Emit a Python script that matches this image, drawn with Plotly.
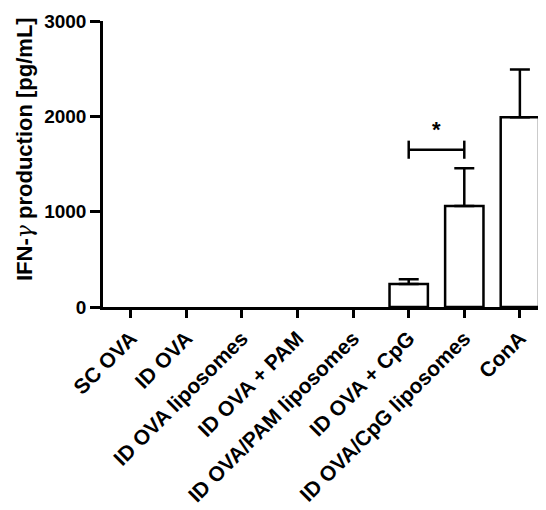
import plotly.graph_objects as go

categories = ["SC OVA", "ID OVA", "ID OVA liposomes", "ID OVA + PAM",
              "ID OVA/PAM liposomes", "ID OVA + CpG", "ID OVA/CpG liposomes", "ConA"]
values = [0, 0, 0, 0, 0, 240, 1060, 1990]
errors = [0, 0, 0, 0, 0, 50, 395, 500]
y_ticks = [0, 1000, 2000, 3000]

sig_pair = (5, 6)
sig_level = 1650
sig_cap = 95
sig_star_y = 1860

FONT = "Liberation Sans, Arial, sans-serif"

# zero-height bars are not drawn in the original figure
shown_values = [v if v > 0 else None for v in values]
shown_errors = [e if v > 0 else None for v, e in zip(values, errors)]

fig = go.Figure()
fig.add_trace(go.Bar(
    x=list(range(len(categories))), y=shown_values,
    width=0.69,
    marker=dict(color="white", line=dict(color="black", width=2.5)),
    error_y=dict(type="data", array=shown_errors, arrayminus=[0]*len(errors), symmetric=False,
                 visible=True, color="black", thickness=2.5, width=10),
    showlegend=False,
))

# significance bracket
a, b = sig_pair
fig.add_trace(go.Scatter(
    x=[a, a, None, a, b, None, b, b],
    y=[sig_level - sig_cap, sig_level + sig_cap, None, sig_level, sig_level, None,
       sig_level - sig_cap, sig_level + sig_cap],
    mode="lines", line=dict(color="black", width=2.5), showlegend=False, hoverinfo="skip",
))
fig.add_annotation(x=(a + b) / 2, y=sig_star_y, text="<b>*</b>", showarrow=False,
                   font=dict(family=FONT, size=22, color="black"))

# y-axis title
fig.add_annotation(
    xref="paper", yref="paper", x=0, y=0.5, xanchor="center", yanchor="middle",
    xshift=-79, yshift=15, textangle=-90, showarrow=False,
    text="<b>IFN-</b><span style='font-family:DejaVu Serif;font-weight:normal;font-style:italic'>γ</span><b> production [pg/mL]</b>",
    font=dict(family=FONT, size=22, color="black"),
)

fig.update_layout(
    width=546, height=510,
    margin=dict(l=95, r=8, t=13, b=211),
    plot_bgcolor="white", paper_bgcolor="white",
    font=dict(family=FONT, size=21, color="black"),
)
fig.update_xaxes(
    range=[-0.5, 7.47], automargin=False,
    tickmode="array", tickvals=list(range(len(categories))),
    ticktext=[f"<b>{c}</b>" for c in categories],
    tickangle=-45,
    showline=True, linecolor="black", linewidth=2.5,
    ticks="outside", ticklen=8, tickwidth=2.5, tickcolor="black",
    showgrid=False, zeroline=False,
    tickfont=dict(family=FONT, size=21, color="black"),
)
fig.update_yaxes(
    range=[0, 3000], automargin=False,
    tickmode="array", tickvals=y_ticks, ticktext=[f"<b>{t}</b>" for t in y_ticks],
    showline=True, linecolor="black", linewidth=2.5,
    ticks="outside", ticklen=10, tickwidth=2.5, tickcolor="black",
    showgrid=False, zeroline=False,
    tickfont=dict(family=FONT, size=19, color="black"),
)

fig.write_html("out.html")
